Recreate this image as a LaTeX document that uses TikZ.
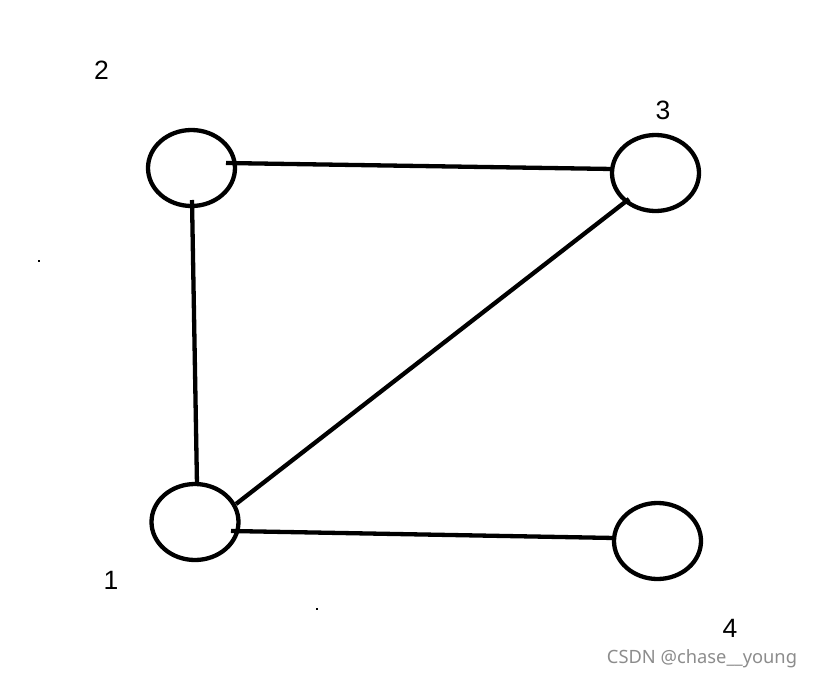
\documentclass[tikz,border=0pt]{standalone}
\usepackage{fontspec}
\setmainfont{Liberation Sans}
\newfontfamily\wmfont{Noto Sans}
\usetikzlibrary{shapes.geometric}
\begin{document}
\begin{tikzpicture}[x=1pt,y=-1pt,
  vert/.style={draw=black,line width=4.3pt,ellipse,inner sep=0pt,minimum width=87pt,minimum height=76pt},
  edge/.style={draw=black,line width=4.3pt},
  lbl/.style={font=\fontsize{26.5}{30}\selectfont,inner sep=0pt},
  speck/.style={fill=black,draw=none}]
\useasboundingbox (0,0) rectangle (814,680);
% vertices
\node[vert] (n2) at (191.5,168) {};
\node[vert] (n3) at (655.5,173) {};
\node[vert] (n1) at (195,522) {};
\node[vert] (n4) at (657.5,541) {};
% edge end points (edges reach into the circles)
\coordinate (a23) at (226,163);
\coordinate (b23) at (613,169);
\coordinate (a21) at (192,200);
\coordinate (b21) at (197,485);
\coordinate (a13) at (236,504);
\coordinate (b13) at (629,199);
\coordinate (a14) at (231,531);
\coordinate (b14) at (615,538);
\draw[edge] (a23) -- (b23);
\draw[edge] (a21) -- (b21);
\draw[edge] (a13) -- (b13);
\draw[edge] (a14) -- (b14);
% labels
\node[lbl] (l2) at (101.5,70.5) {2};
\node[lbl] (l3) at (663,110) {3};
\node[lbl] (l1) at (111,580) {1};
\node[lbl] (l4) at (730,628) {4};
% watermark
\node[font=\wmfont\fontsize{18.3}{21}\selectfont,text=black!45,inner sep=0pt] (wm) at (702,659) {CSDN @chase\_\_young};
% specks
\fill[speck] (38,260) rectangle (40,262);
\fill[speck] (316,608) rectangle (318,610);
\end{tikzpicture}
\end{document}
